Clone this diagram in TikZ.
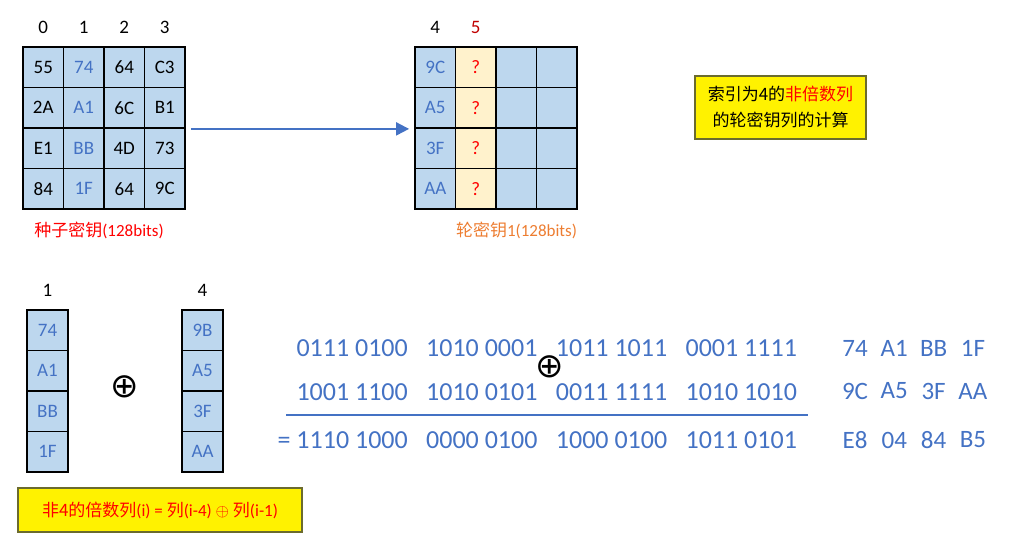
\documentclass[tikz,border=0pt]{standalone}
\usepackage{fontspec}
\setmainfont{Carlito}
\newfontfamily\cjk{Noto Sans CJK SC}
\newfontfamily\symfont{DejaVu Sans}
\usetikzlibrary{arrows.meta}
\definecolor{cellblue}{HTML}{BDD7EE}
\definecolor{cellyellow}{HTML}{FFF2CC}
\definecolor{txtblue}{HTML}{4472C4}
\definecolor{keyred}{HTML}{FF0000}
\definecolor{darkred}{HTML}{C00000}
\definecolor{keyorange}{HTML}{ED7D31}
\definecolor{boxline}{HTML}{6B6B2E}
\tikzset{
 cell/.style={draw, line width=1.8pt, fill=cellblue, minimum size=40.5pt, inner sep=0pt, font=\fontsize{19}{19}\selectfont},
 lbl/.style={inner sep=0pt, font=\fontsize{19}{19}\selectfont},
 caption/.style={inner sep=0pt, font=\fontsize{17}{17}\selectfont},
 notebox/.style={draw=boxline, line width=1.5pt, fill=yellow, align=center, inner sep=0pt, font=\fontsize{17}{26}\selectfont},
 bits/.style={inner sep=0pt, text=txtblue, font=\fontsize{26}{26}\selectfont},
 hex/.style={inner sep=0pt, text=txtblue, font=\fontsize{25}{25}\selectfont},
 xor/.style={inner sep=0pt, font=\symfont\fontsize{34}{34}\selectfont},
 flow/.style={draw=txtblue, line width=2pt, -{Triangle[length=13pt,width=13pt]}},
}
\begin{document}
\begin{tikzpicture}[x=1pt,y=-1pt]
\useasboundingbox (0,0) rectangle (1010,553);
% seed key
\foreach \c in {0,...,3}
 \node[lbl] (sl\c) at (43.25+40.5*\c,27) {\c};
\foreach \row [count=\r from 0] in {{55,74,64,C3},{2A,A1,6C,B1},{E1,BB,4D,73},{84,1F,64,9C}}
 \foreach \v [count=\c from 0] in \row
  \node[cell] (s\r\c) at (43.25+40.5*\c,67.25+40.5*\r) {\ifnum\c=1\color{txtblue}\fi\v};
\node[caption,text=keyred] (seedname) at (99,230) {{\cjk 种子密钥}(128bits)};

% round key 1
\node[lbl] (kl0) at (435.25,27) {4};
\node[lbl,text=darkred] (kl1) at (475.75,27) {5};
\foreach \v [count=\r from 0] in {9C,A5,3F,AA} {
 \node[cell,text=txtblue] (k\r0) at (435.25,67.25+40.5*\r) {\v};
 \node[cell,fill=cellyellow,text=keyred] (k\r1) at (475.75,67.25+40.5*\r) {?};
 \node[cell] (k\r2) at (516.25,67.25+40.5*\r) {};
 \node[cell] (k\r3) at (556.75,67.25+40.5*\r) {};
}
\node[caption,text=keyorange] (keyname) at (516.5,230) {{\cjk 轮密钥}1(128bits)};
\draw[flow] ([xshift=5pt]s13.south east) -- ([xshift=-5pt]k10.south west);

\node[notebox,minimum width=171pt,minimum height=63pt] (note) at (780.5,107.5)
 {\cjk 索引为4的\textcolor{keyred}{非倍数列}\\\cjk 的轮密钥列的计算};

% column i-4 xor column i-1
\node[lbl] (al) at (47.5,290) {1};
\node[lbl] (bl) at (202.5,290) {4};
\foreach \v [count=\r from 0] in {74,A1,BB,1F}
 \node[cell,text=txtblue] (a\r) at (47.5,330.25+40.5*\r) {\v};
\foreach \v [count=\r from 0] in {9B,A5,3F,AA}
 \node[cell,text=txtblue] (b\r) at (202.5,330.25+40.5*\r) {\v};
\node[xor] (xor1) at (125,387) {⊕};

\node[notebox,minimum width=284pt,minimum height=44pt,text=keyred] (formula) at (160,510)
 {{\cjk 非4的倍数列}(i) = {\cjk 列}(i-4) $\oplus$ {\cjk 列}(i-1)};

% bits
\foreach \g [count=\c from 0] in {0111 0100,1010 0001,1011 1011,0001 1111}
 \node[bits,anchor=east] (n0\c) at (408+129.7*\c,348) {\g};
\foreach \g [count=\c from 0] in {1001 1100,1010 0101,0011 1111,1010 1010}
 \node[bits,anchor=east] (n1\c) at (408+129.7*\c,392) {\g};
\foreach \g [count=\c from 0] in {= 1110 1000,0000 0100,1000 0100,1011 0101}
 \node[bits,anchor=east] (n2\c) at (408+129.7*\c,440) {\g};
\node[xor] (xor2) at (550,367) {⊕};
\coordinate (rl) at (286,415);
\coordinate (rr) at (808,415);
\draw[txtblue,line width=2pt] (rl) -- (rr);

% hex
\foreach \v [count=\c from 0] in {74,A1,BB,1F}
 \node[hex] (h0\c) at (855+39.3*\c,348) {\v};
\foreach \v [count=\c from 0] in {9C,A5,3F,AA}
 \node[hex] (h1\c) at (855+39.3*\c,391) {\v};
\foreach \v [count=\c from 0] in {E8,04,84,B5}
 \node[hex] (h2\c) at (855+39.3*\c,440) {\v};
\end{tikzpicture}
\end{document}
